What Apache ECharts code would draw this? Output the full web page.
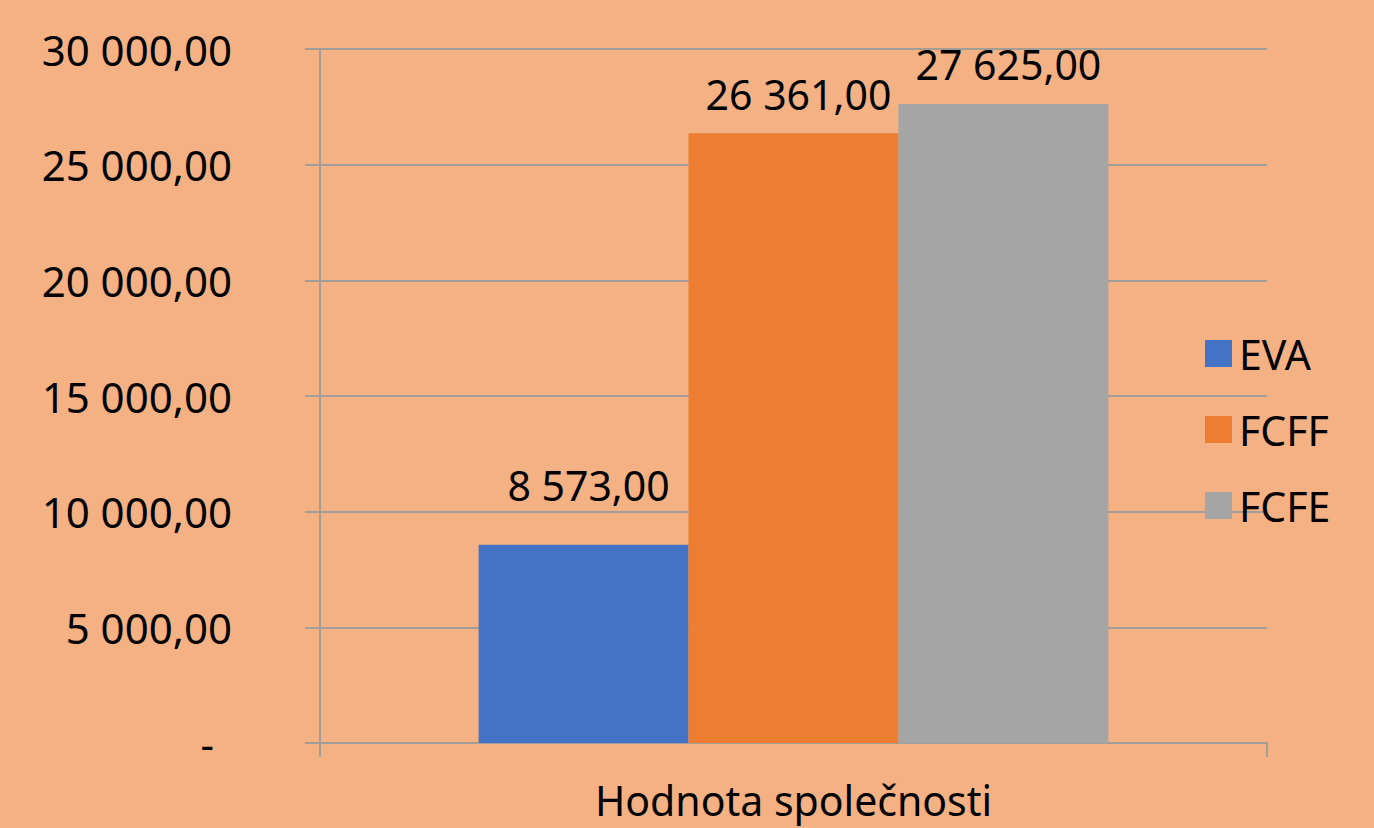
<!DOCTYPE html>
<html>
<head>
<meta charset="utf-8">
<script src="https://cdn.jsdelivr.net/npm/echarts@6/dist/echarts.min.js"></script>
<style>
  html, body { margin: 0; padding: 0; background: #F4B183; }
  #chart { width: 1374px; height: 828px; }
</style>
</head>
<body>
<div id="chart"></div>
<script>
// Hodnota společnosti - EVA / FCFF / FCFE
var categories = ['Hodnota společnosti'];
var seriesNames = ['EVA', 'FCFF', 'FCFE'];
var evaValues = [8573];
var fcffValues = [26361];
var fcfeValues = [27625];
var seriesColors = ['#4472C4', '#ED7D31', '#A5A5A5'];

(function() {
  var font = '"Noto Sans", "Open Sans", sans-serif';
  var lineColor = '#a39d97';
  var labelDistance = [39, 19, 19];

  function fmt(v) {
    var s = Math.round(v).toString().replace(/\B(?=(\d{3})+(?!\d))/g, ' ');
    return s + ',00';
  }

  var values = [evaValues, fcffValues, fcfeValues];
  var series = seriesNames.map(function(name, i) {
    return {
      name: name,
      type: 'bar',
      barGap: '0%',
      barCategoryGap: '33.5%',
      itemStyle: { color: seriesColors[i] },
      label: {
        show: true,
        position: 'top',
        distance: labelDistance[i],
        offset: [5, 0],
        color: '#000',
        fontFamily: font,
        fontSize: 41,
        formatter: function(p) { return fmt(p.value); }
      },
      data: values[i]
    };
  });

  var chart = echarts.init(document.getElementById('chart'), null, { renderer: 'svg' });
  chart.setOption({
    animation: false,
    backgroundColor: '#F4B183',
    grid: { left: 320, right: 107, top: 49, bottom: 85 },
    legend: {
      orient: 'vertical',
      left: 1200,
      top: 328,
      itemWidth: 27,
      itemHeight: 27,
      itemGap: 35,
      icon: 'rect',
      textStyle: { color: '#000', fontFamily: font, fontSize: 41, lineHeight: 27, padding: [0, 0, 0, 2] },
      data: seriesNames
    },
    xAxis: {
      type: 'category',
      data: categories,
      axisLine: { lineStyle: { color: lineColor, width: 2 } },
      axisTick: { show: true, length: 14, lineStyle: { color: lineColor, width: 2 } },
      axisLabel: { color: '#000', fontFamily: font, fontSize: 41, margin: 36 }
    },
    yAxis: {
      type: 'value',
      min: 0,
      max: 30000,
      interval: 5000,
      axisLine: { show: true, lineStyle: { color: lineColor, width: 2 } },
      axisTick: { show: true, length: 15, lineStyle: { color: lineColor, width: 2 } },
      splitLine: { lineStyle: { color: lineColor, width: 2 } },
      axisLabel: {
        color: '#000',
        fontFamily: font,
        fontSize: 42,
        margin: 88,
        formatter: function(v) { return v === 0 ? '{z|-}' : fmt(v); },
        rich: { z: { color: '#000', fontFamily: font, fontSize: 42, padding: [0, 18, 0, 0] } }
      }
    },
    series: series
  });
  window.addEventListener('resize', function() { chart.resize(); });
})();
</script>
</body>
</html>
